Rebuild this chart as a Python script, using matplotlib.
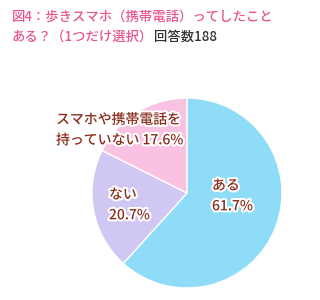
#coding:utf-8
import matplotlib
matplotlib.use("Agg")
import matplotlib.pyplot as plt
import matplotlib.patheffects as pe

plt.rcParams['font.family'] = ['Noto Sans CJK JP', 'DejaVu Sans']

# data
labels = ["ある\n61.7%", "ない\n20.7%", "スマホや携帯電話を\n持っていない 17.6%"]
values = [61.7, 20.7, 17.6]
colors = ["#8fdcf8", "#d0c8f3", "#f9c2e3"]
title1 = "図4：歩きスマホ（携帯電話）ってしたこと"
title2 = "ある？（1つだけ選択）"
count_text = "回答数188"

fig = plt.figure(figsize=(3.2, 3.0), dpi=100)
ax = fig.add_axes([0, 0, 1, 1])

wedges, _ = ax.pie(values, colors=colors, startangle=90, counterclock=False,
                   center=(187, 107), radius=95, frame=True,
                   wedgeprops=dict(edgecolor="white", linewidth=1))
ax.set_xlim(0, 320)
ax.set_ylim(0, 300)
ax.set_aspect("equal")
ax.axis("off")

stroke = [pe.withStroke(linewidth=3, foreground="white")]
txt_color = "#8a2c1c"
# label positions (pixel coords, y from bottom)
pos = [(212, 104), (109, 95), (56, 170)]
for lab, (x, y) in zip(labels, pos):
    ax.text(x, y, lab, ha="left", va="center", fontsize=10, color=txt_color,
            fontweight="medium", linespacing=1.6, path_effects=stroke)

# title
ax.text(12, 283, title1, fontsize=9.6, fontweight="medium",
        color="#e8558f", va="center", ha="left")
t2 = ax.text(12, 263, title2, fontsize=9.6, fontweight="medium",
             color="#e8558f", va="center", ha="left")
fig.canvas.draw()
bb = t2.get_window_extent()
ax.text(bb.x1 + 1, 263, count_text, fontsize=9.6, fontweight="medium",
        color="#333333", va="center", ha="left")

plt.savefig("out.png", dpi=100)
